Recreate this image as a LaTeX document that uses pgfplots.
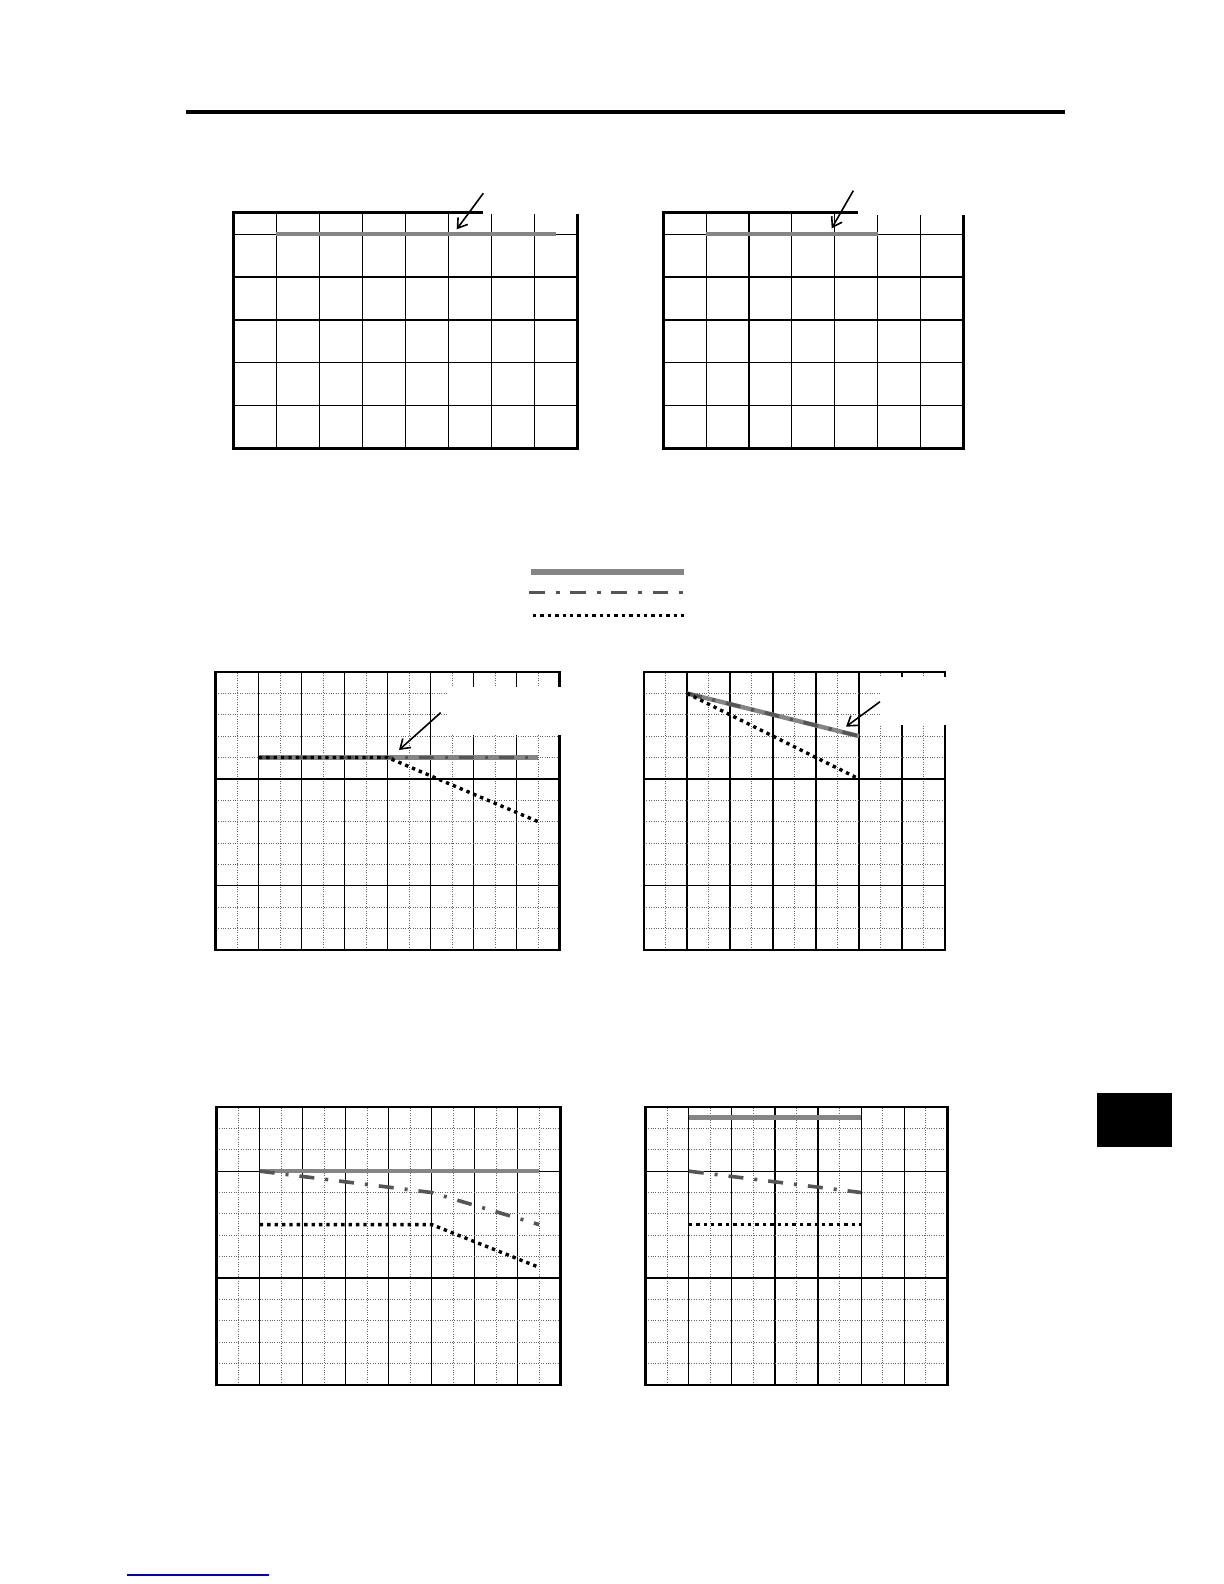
\documentclass[border=0pt]{standalone}
\usepackage{pgfplots}
\pgfplotsset{compat=1.18}
\usetikzlibrary{arrows.meta}
\definecolor{lgray}{HTML}{858585}
\definecolor{dgray}{HTML}{555555}
\pgfplotsset{
  base/.style={scale only axis, clip=false, xmin=0, ymin=0,
    xticklabels={}, yticklabels={}, major tick length=0pt, minor tick length=0pt,
    axis line style={line width=1.4pt}, anchor=south west},
  topgrid/.style={base, ymax=5.5, xtick={0,...,8}, ytick={0,...,5},
    grid=major, major grid style={black, line width=0.6pt}},
  fine/.style={base, ymax=13, xtick={0,...,8}, minor xtick={0.5,1.5,...,7.5},
    minor ytick={0,...,13}, grid=both,
    major grid style={black, line width=0.6pt},
    minor grid style={black!60, line width=0.5pt, dash pattern=on 0.5pt off 0.7pt}},
  sgray/.style={lgray, line width=2.2pt},
  sdash/.style={dgray, line width=1.8pt, dash pattern=on 7.5pt off 5.5pt on 1.5pt off 5.5pt},
  sdot/.style={black, line width=1.7pt, dash pattern=on 1.7pt off 2pt},
}
\begin{document}
\begin{tikzpicture}
\useasboundingbox[fill=white] (0,0) rectangle (612pt,792pt);
% header rule
\draw[line width=2pt] (93pt,736pt) -- (532.5pt,736pt);
% chart 1
\begin{axis}[topgrid, at={(116.65pt,567.65pt)}, width=172.2pt, height=118pt, xmax=8]
\addplot[sgray] coordinates {(1,5) (7.5,5)};
\end{axis}
% chart 2
\begin{axis}[topgrid, at={(331.65pt,567.65pt)}, width=150pt, height=118pt, xmax=7]
\addplot[sgray] coordinates {(1,5) (5,5)};
\end{axis}
% chart 3
\begin{axis}[fine, at={(107.85pt,317pt)}, width=172pt, height=139pt, xmax=8, ytick={3,8,13}]
\addplot[sgray] coordinates {(1,9) (7.5,9)};
\addplot[sdash] coordinates {(1,9) (7.5,9)};
\addplot[sdot] coordinates {(1,9) (4,9) (7.5,6)};
\end{axis}
% chart 4
\begin{axis}[fine, at={(322pt,317pt)}, width=150.5pt, height=139pt, xmax=7, ytick={3,8,13}]
\addplot[sgray] coordinates {(1,12) (5,10)};
\addplot[sdash] coordinates {(1,12) (5,10)};
\addplot[sdot] coordinates {(1,12) (5,8)};
\end{axis}
% chart 5
\begin{axis}[fine, at={(108.35pt,99.5pt)}, width=172pt, height=139pt, xmax=8, ytick={0,5,10}]
\addplot[sgray] coordinates {(1,10) (7.5,10)};
\addplot[sdash] coordinates {(1,10) (5,9) (7.5,7.5)};
\addplot[sdot] coordinates {(1,7.5) (5,7.5) (7.5,5.5)};
\end{axis}
% chart 6
\begin{axis}[fine, at={(322.85pt,99.5pt)}, width=150.8pt, height=139pt, xmax=7, ytick={0,5,10}]
\addplot[sgray] coordinates {(1,12.5) (5,12.5)};
\addplot[sdash] coordinates {(1,10) (5,9)};
\addplot[sdot] coordinates {(1,7.5) (5,7.5)};
\end{axis}
% label boxes (blank) and arrows
\fill[white] (241.5pt,684.85pt) rectangle (292pt,690pt);
\fill[white] (428.85pt,684.5pt) rectangle (485pt,690pt);
\fill[white] (223.35pt,424.5pt) rectangle (283pt,448.65pt);
\fill[white] (440pt,429.5pt) rectangle (476pt,453.65pt);
\tikzset{arr/.style={line width=0.8pt, -{Straight Barb[length=4.5pt,width=6pt]}}}
\draw[arr] (241.65pt,695.35pt) -- (228.35pt,677.35pt);
\draw[arr] (426.65pt,696.65pt) -- (415.85pt,677.85pt);
\draw[arr] (220.35pt,435.65pt) -- (199.5pt,417pt);
\draw[arr] (440pt,441.15pt) -- (423pt,428.65pt);
% legend samples
\draw[lgray, line width=2.6pt] (265.5pt,506pt) -- (342pt,506pt);
\draw[dgray, line width=1.8pt, dash pattern=on 7.8pt off 5.5pt on 2pt off 5.3pt] (264.5pt,495.65pt) -- (342pt,495.65pt);
\draw[black, line width=1.7pt, dash pattern=on 1.7pt off 2pt] (266.5pt,484.15pt) -- (342.5pt,484.15pt);
% side tab
\fill[black] (548.5pt,218.5pt) rectangle (586pt,245.5pt);
% link underline
\draw[blue!80!black, line width=0.7pt] (63.35pt,4.5pt) -- (134.5pt,4.5pt);
\end{tikzpicture}
\end{document}
